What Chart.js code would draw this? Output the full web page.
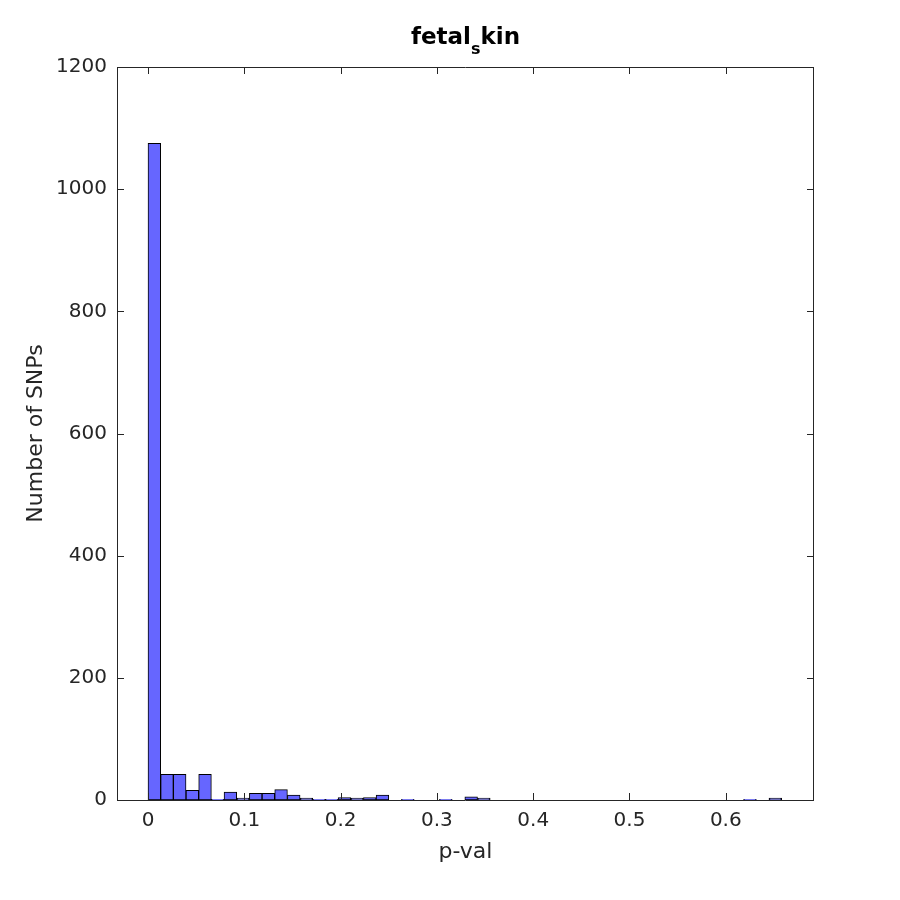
<!DOCTYPE html>
<html>
<head>
<meta charset="utf-8">
<script src="https://cdn.jsdelivr.net/npm/chart.js@4/dist/chart.umd.min.js"></script>
<style>
  html, body { margin: 0; padding: 0; background: #fff; }
  #wrap { width: 900px; height: 900px; position: relative; }
</style>
</head>
<body>
<div id="wrap"><canvas id="c"></canvas></div>
<script>
// ---- data ----
const binCenters = [0.00658, 0.01974, 0.0329, 0.04606, 0.05922, 0.07238, 0.08554, 0.0987, 0.11186, 0.12502,
  0.13818, 0.15134, 0.1645, 0.17766, 0.19082, 0.20398, 0.21714, 0.2303, 0.24346, 0.25662,
  0.26978, 0.28294, 0.2961, 0.30926, 0.32242, 0.33558, 0.34874, 0.3619, 0.37506, 0.38822,
  0.40138, 0.41454, 0.4277, 0.44086, 0.45402, 0.46718, 0.48034, 0.4935, 0.50666, 0.51982,
  0.53298, 0.54614, 0.5593, 0.57246, 0.58562, 0.59878, 0.61194, 0.6251, 0.63826, 0.65142];
const counts = [1075, 42, 42, 16, 42, 1, 13, 3, 11, 11,
  17, 8, 3, 1, 1, 4, 3, 4, 8, 0,
  1, 0, 0, 1, 0, 5, 3, 0, 0, 0,
  0, 0, 0, 0, 0, 0, 0, 0, 0, 0,
  0, 0, 0, 0, 0, 0, 0, 1, 0, 3];
const xTicks = [0, 0.1, 0.2, 0.3, 0.4, 0.5, 0.6];
const yTicks = [0, 200, 400, 600, 800, 1000, 1200];
const xRange = [-0.0322, 0.6916];
const yRange = [0, 1200];
const titleParts = ['fetal', 's', 'kin'];
const xLabel = 'p-val';
const yLabel = 'Number of SNPs';

const FONT = "'DejaVu Sans', sans-serif";
const AX = '#262626';

const framePlugin = {
  id: 'frame',
  beforeDraw(chart) {
    const ctx = chart.ctx;
    ctx.save();
    ctx.fillStyle = '#fff';
    ctx.fillRect(0, 0, chart.width, chart.height);
    ctx.restore();
  },
  afterDraw(chart) {
    const ctx = chart.ctx;
    const a = chart.chartArea;
    const xs = chart.scales.x, ys = chart.scales.y;
    const L = 7;
    ctx.save();
    ctx.strokeStyle = AX;
    ctx.lineWidth = 1;
    ctx.beginPath();
    ctx.rect(Math.round(a.left) + 0.5, Math.round(a.top) + 0.5,
             Math.round(a.right - a.left) - 1, Math.round(a.bottom - a.top));
    xTicks.forEach(v => {
      const p = Math.round(xs.getPixelForValue(v)) + 0.5;
      ctx.moveTo(p, a.bottom); ctx.lineTo(p, a.bottom - L);
      ctx.moveTo(p, a.top); ctx.lineTo(p, a.top + L);
    });
    yTicks.forEach(v => {
      const p = Math.round(ys.getPixelForValue(v)) + 0.5;
      ctx.moveTo(a.left, p); ctx.lineTo(a.left + L, p);
      ctx.moveTo(a.right, p); ctx.lineTo(a.right - L, p);
    });
    ctx.stroke();

    // title with TeX-like subscript
    ctx.fillStyle = '#000';
    ctx.textBaseline = 'alphabetic';
    ctx.textAlign = 'left';
    const big = "bold 23px " + FONT, small = "bold 16px " + FONT;
    ctx.font = big; const w1 = ctx.measureText(titleParts[0]).width;
    ctx.font = small; const w2 = ctx.measureText(titleParts[1]).width;
    ctx.font = big; const w3 = ctx.measureText(titleParts[2]).width;
    const total = w1 + w2 + w3;
    let x = (a.left + a.right) / 2 - total / 2;
    const base = 43.5;
    ctx.font = big; ctx.fillText(titleParts[0], x, base); x += w1;
    ctx.font = small; ctx.fillText(titleParts[1], x, base + 10); x += w2;
    ctx.font = big; ctx.fillText(titleParts[2], x, base);
    ctx.restore();
  }
};

new Chart(document.getElementById('c'), {
  type: 'bar',
  data: {
    datasets: [{
      data: binCenters.map((c, i) => ({ x: c, y: counts[i] })),
      backgroundColor: 'rgb(102,102,255)',
      borderColor: '#000',
      borderWidth: 1,
      borderSkipped: false,
      barPercentage: 1,
      categoryPercentage: 1,
      grouped: false
    }]
  },
  options: {
    responsive: true,
    maintainAspectRatio: false,
    animation: false,
    devicePixelRatio: 1,
    layout: { padding: { left: 0, top: 67, right: 86, bottom: 0 } },
    plugins: { legend: { display: false }, tooltip: { enabled: false }, title: { display: false } },
    scales: {
      x: {
        type: 'linear',
        offset: false,
        min: xRange[0], max: xRange[1],
        grid: { display: false, drawTicks: false },
        border: { display: false },
        afterBuildTicks: s => { s.ticks = xTicks.map(v => ({ value: v })); },
        afterFit: s => { s.height = 100; },
        ticks: {
          padding: 9, color: AX, maxRotation: 0, autoSkip: false,
          font: { family: FONT, size: 20 },
          callback: v => String(v)
        },
        title: { display: true, text: xLabel, color: AX, font: { family: FONT, size: 22 },
                 padding: { top: 0, bottom: 35 } }
      },
      y: {
        min: yRange[0], max: yRange[1],
        grid: { display: false, drawTicks: false },
        border: { display: false },
        afterBuildTicks: s => { s.ticks = yTicks.map(v => ({ value: v })); },
        afterFit: s => { s.width = 117; },
        ticks: {
          padding: 10, color: AX, autoSkip: false,
          font: { family: FONT, size: 20 },
          callback: v => String(v)
        },
        title: { display: true, text: yLabel, color: AX, font: { family: FONT, size: 22 },
                 padding: { top: 23, bottom: 0 } }
      }
    }
  },
  plugins: [framePlugin]
});
</script>
</body>
</html>
